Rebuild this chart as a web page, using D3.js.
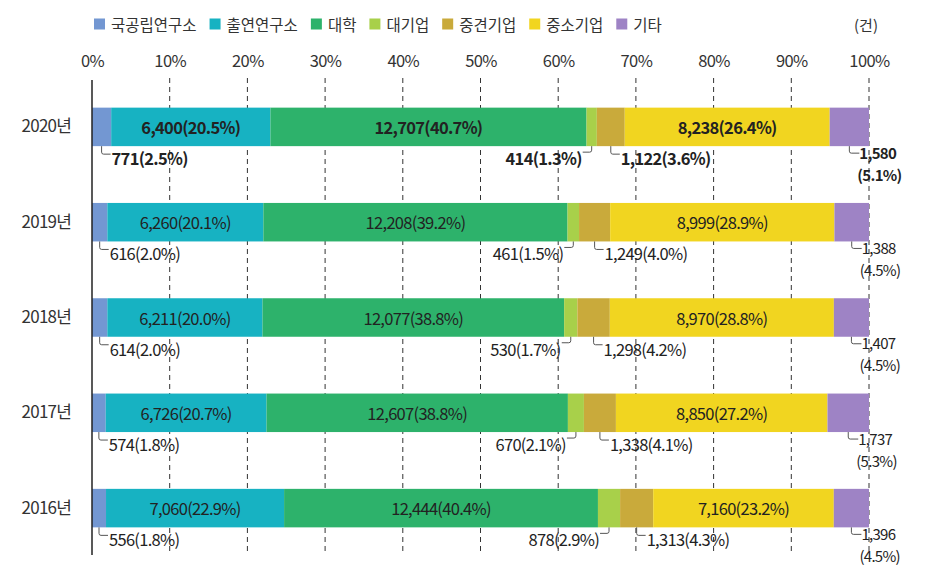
<!DOCTYPE html>
<html>
<head>
<meta charset="utf-8">
<script src="https://cdn.jsdelivr.net/npm/d3@7/dist/d3.min.js"></script>
<style>
  html, body { margin: 0; padding: 0; background: #fff; }
  svg { display: block; font-family: "Noto Sans CJK KR", "Noto Sans", sans-serif; }
</style>
</head>
<body>
<svg id="chart" width="932" height="578"></svg>
<script>
// ---- data ----
const years = ["2020년", "2019년", "2018년", "2017년", "2016년"];
const categories = ["국공립연구소", "출연연구소", "대학", "대기업", "중견기업", "중소기업", "기타"];
const colors = ["#7397d2", "#17b2c2", "#2db26b", "#a8d04a", "#c9aa3b", "#f1d520", "#9e83c5"];
const counts = [
  [771, 6400, 12707, 414, 1122, 8238, 1580],
  [616, 6260, 12208, 461, 1249, 8999, 1388],
  [614, 6211, 12077, 530, 1298, 8970, 1407],
  [574, 6726, 12607, 670, 1338, 8850, 1737],
  [556, 7060, 12444, 878, 1313, 7160, 1396]
];
const percents = [
  [2.5, 20.5, 40.7, 1.3, 3.6, 26.4, 5.1],
  [2.0, 20.1, 39.2, 1.5, 4.0, 28.9, 4.5],
  [2.0, 20.0, 38.8, 1.7, 4.2, 28.8, 4.5],
  [1.8, 20.7, 38.8, 2.1, 4.1, 27.2, 5.3],
  [1.8, 22.9, 40.4, 2.9, 4.3, 23.2, 4.5]
];
const xTicks = [0, 10, 20, 30, 40, 50, 60, 70, 80, 90, 100];
const unitLabel = "(건)";
const boldYear = "2020년";
// label placement per category: inside / below-right / below-left / two-line
const labelMode = ["right", "inside", "inside", "left", "right", "inside", "two"];

// ---- layout ----
const svg = d3.select("#chart");
const x = d3.scaleLinear().domain([0, 100]).range([92, 869]);
const y = d3.scaleBand().domain(years).range([80, 555]).paddingInner(0.596).paddingOuter(0.29);
const fmt = d3.format(",");
const textColor = "#222";

// gridlines
svg.append("g").selectAll("line").data(xTicks.filter(d => d > 0)).join("line")
  .attr("x1", d => x(d)).attr("x2", d => x(d))
  .attr("y1", 78).attr("y2", 555)
  .attr("stroke", "#333").attr("stroke-width", 1).attr("stroke-dasharray", "5,4");

// x axis labels (top)
const xAxis = d3.axisTop(x).tickValues(xTicks).tickFormat(d => d + "%").tickSize(0).tickPadding(0);
const gx = svg.append("g").attr("transform", "translate(0,67)").call(xAxis);
gx.select(".domain").remove();
gx.selectAll("text").attr("font-size", 16.5).attr("fill", "#333")
  .attr("font-family", "'Noto Sans CJK KR', sans-serif").attr("letter-spacing", "-0.6px");

// stacked data
const rows = years.map((yr, i) => {
  const total = d3.sum(counts[i]);
  let acc = 0;
  return counts[i].map((v, j) => {
    const p = v / total * 100;
    const seg = { year: yr, cat: j, value: v, pct: percents[i][j], x0: acc, x1: acc + p };
    acc += p;
    return seg;
  });
});

const rowG = svg.append("g").selectAll("g").data(rows).join("g");

rowG.selectAll("rect").data(d => d).join("rect")
  .attr("x", d => x(d.x0))
  .attr("width", d => x(d.x1) - x(d.x0))
  .attr("y", d => y(d.year))
  .attr("height", y.bandwidth())
  .attr("fill", d => colors[d.cat]);

// y axis line
svg.append("line").attr("x1", x(0)).attr("x2", x(0)).attr("y1", 80).attr("y2", 555)
  .attr("stroke", "#222").attr("stroke-width", 1.5);

// y labels
const yAxis = d3.axisLeft(y).tickSize(0).tickPadding(0);
const gy = svg.append("g").attr("transform", "translate(71,0)").call(yAxis);
gy.select(".domain").remove();
gy.selectAll("text").attr("font-size", 17).attr("fill", "#333")
  .attr("font-family", "'Noto Sans CJK KR', sans-serif").attr("letter-spacing", "-0.8px");

// segment labels
const fs = 16.5, ls = "-0.7px";
rows.forEach(row => {
  row.forEach(d => {
    const mode = labelMode[d.cat];
    const weight = d.year === boldYear ? "bold" : "normal";
    const top = y(d.year), bot = top + y.bandwidth();
    const cx = (x(d.x0) + x(d.x1)) / 2;
    const txt = fmt(d.value) + "(" + d.pct.toFixed(1) + "%)";
    const g = svg.append("g").attr("font-size", fs).attr("letter-spacing", ls)
      .attr("fill", textColor).attr("font-weight", weight);
    if (mode === "inside") {
      g.append("text").attr("x", cx).attr("y", top + y.bandwidth() / 2)
        .attr("text-anchor", "middle").attr("dominant-baseline", "central").text(txt);
    } else if (mode === "right") {
      g.append("path").attr("d", `M${cx},${bot}L${cx},${bot + 6}Q${cx},${bot + 8} ${cx + 2},${bot + 8}L${cx + 9},${bot + 8}`)
        .attr("fill", "none").attr("stroke", "#555").attr("stroke-width", 1);
      g.append("text").attr("x", cx + 10).attr("y", bot + 12)
        .attr("dominant-baseline", "central").text(txt);
    } else if (mode === "left") {
      g.append("path").attr("d", `M${cx},${bot}L${cx},${bot + 4}Q${cx},${bot + 6} ${cx - 2},${bot + 6}L${cx - 9},${bot + 6}`)
        .attr("fill", "none").attr("stroke", "#555").attr("stroke-width", 1);
      g.append("text").attr("x", cx - 10).attr("y", bot + 12)
        .attr("text-anchor", "end").attr("dominant-baseline", "central").text(txt);
    } else if (mode === "two") {
      g.attr("font-size", 15);
      g.append("path").attr("d", `M${cx},${bot}L${cx},${bot + 5}Q${cx},${bot + 7} ${cx + 2},${bot + 7}L${cx + 10},${bot + 7}`)
        .attr("fill", "none").attr("stroke", "#555").attr("stroke-width", 1);
      g.append("text").attr("x", cx + 10).attr("y", bot + 6)
        .attr("dominant-baseline", "central").text(fmt(d.value));
      g.append("text").attr("x", cx + 8).attr("y", bot + 28)
        .attr("dominant-baseline", "central").text("(" + d.pct.toFixed(1) + "%)");
    }
  });
});

// legend
const legend = svg.append("g").attr("font-size", 15.5).attr("fill", "#333");
let lx = 94;
categories.forEach((c, i) => {
  legend.append("rect").attr("x", lx).attr("y", 18.5).attr("width", 11).attr("height", 11).attr("fill", colors[i]);
  const t = legend.append("text").attr("x", lx + 17).attr("y", 24).attr("dominant-baseline", "central")
    .text(c);
  lx += 17 + t.node().getComputedTextLength() + 13;
});
legend.append("text").attr("x", 866).attr("y", 24).attr("text-anchor", "middle")
  .attr("dominant-baseline", "central").attr("font-size", 15).text(unitLabel);
</script>
</body>
</html>
